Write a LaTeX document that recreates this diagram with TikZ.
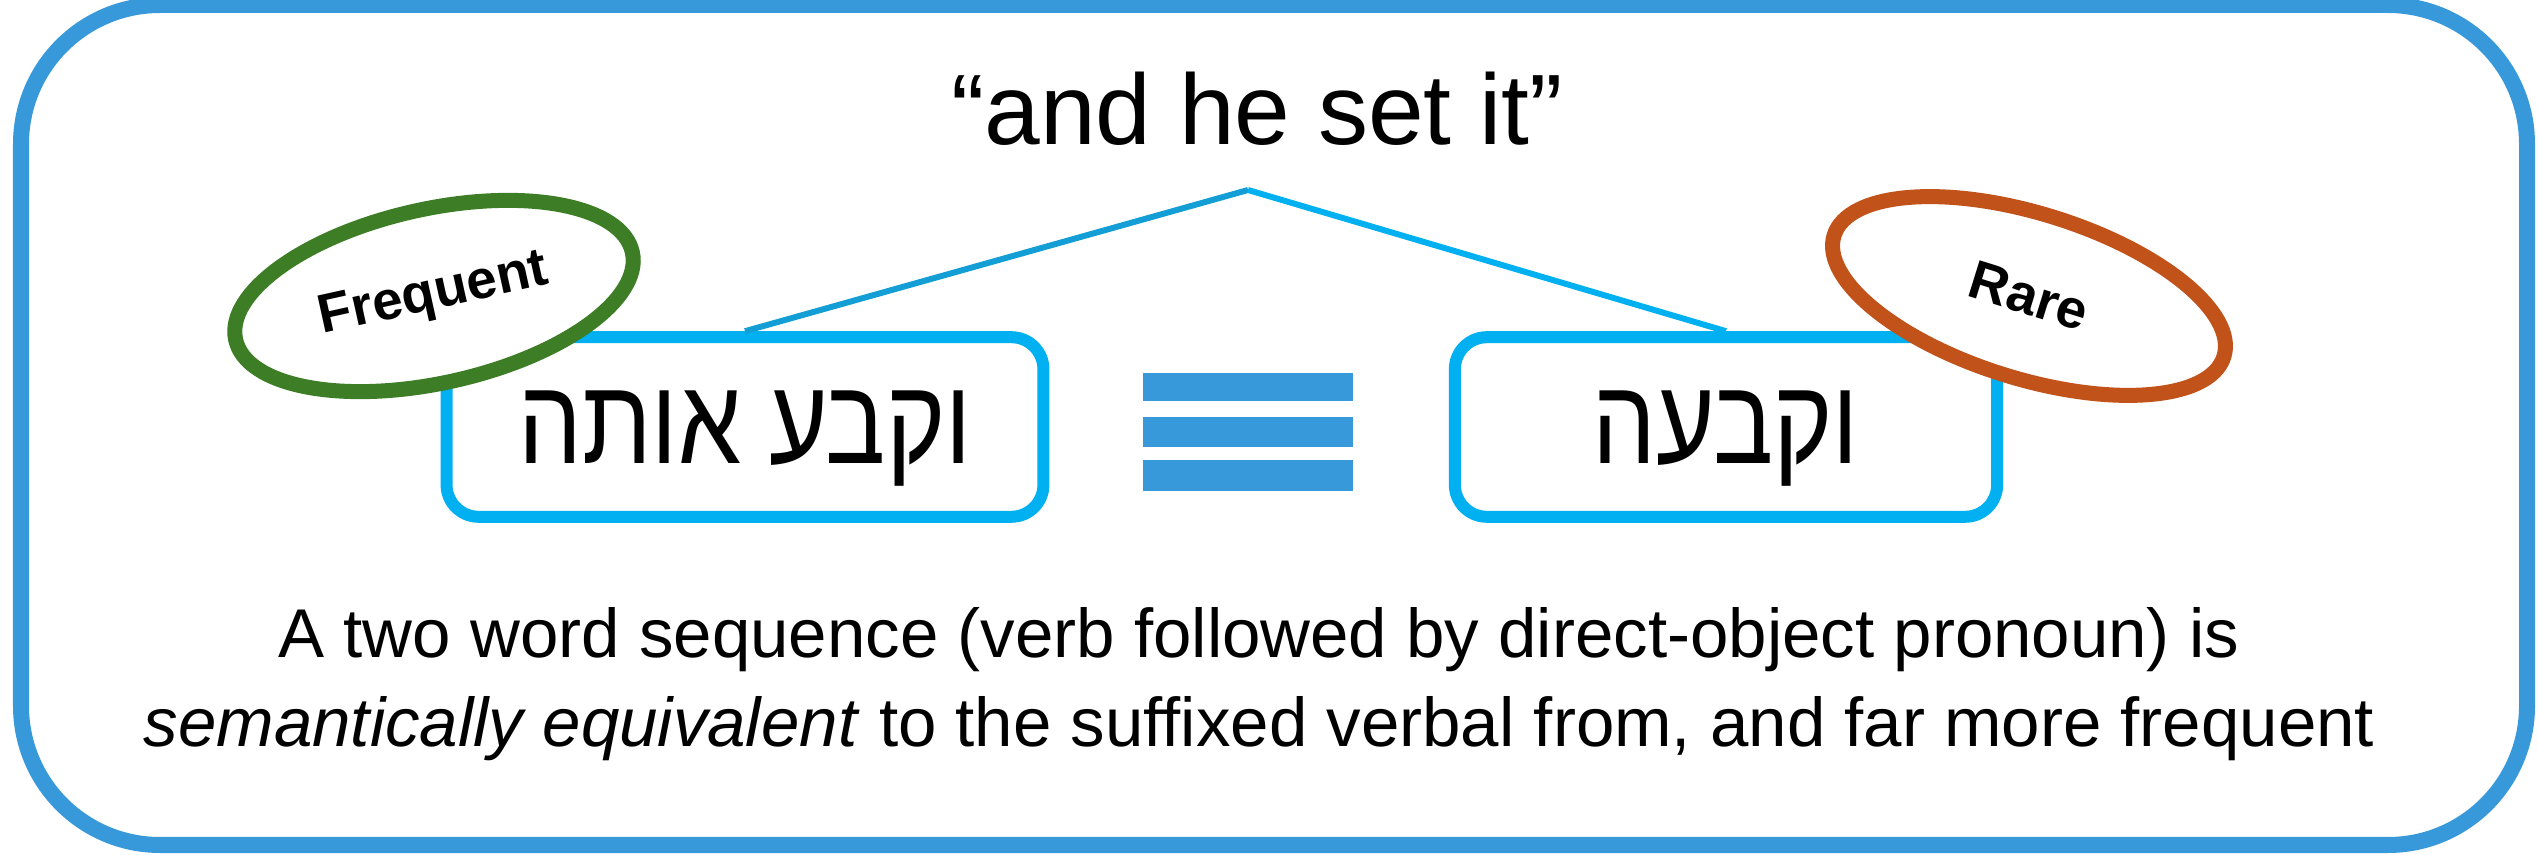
\documentclass[tikz,border=0pt]{standalone}
\usepackage{fontspec}
\setmainfont{Liberation Sans}
\newfontfamily\hebfont[Script=Hebrew, FakeStretch=0.83]{Liberation Sans}
\TeXXeTstate=1
\usetikzlibrary{shapes.geometric}
\definecolor{framecol}{RGB}{56,153,218}
\definecolor{boxcol}{RGB}{0,176,240}
\definecolor{leftline}{RGB}{20,158,214}
\definecolor{freqgreen}{RGB}{61,125,37}
\definecolor{rareorange}{RGB}{192,82,26}
\begin{document}
\begin{tikzpicture}[x=0.01cm,y=-0.01cm,
  wordbox/.style={draw=boxcol, line width=3.41pt, rounded corners=0.32cm, minimum height=1.795cm,
    inner sep=0pt, text depth=0pt, font=\hebfont\fontsize{34.5}{40}\selectfont},
  tag/.style={shape=ellipse, draw, fill=white, line width=4.27pt, inner sep=0pt,
    font=\bfseries\fontsize{15.5}{18}\selectfont},
  link/.style={line width=1.7pt},
  bar/.style={fill=framecol},
  caption/.style={anchor=base, font=\fontsize{19.63}{25}\selectfont}]
\useasboundingbox (0,0) rectangle (2538,855);
\draw[framecol, line width=4.55pt, rounded corners=1.39cm] (21,5) rectangle (2527,845);

\node[anchor=base, inner sep=0pt, font=\fontsize{28.45}{34}\selectfont] (title) at (1257,145) {“and he set it”};

\node[wordbox, minimum width=5.965cm] (left) at (745,427) {\beginR וקבע אותה\endR};
\node[wordbox, minimum width=5.42cm] (right) at (1726,427) {\beginR וקבעה\endR};

\coordinate (apex) at (1248,190);
\draw[link, leftline] (apex) -- (left.north);
\draw[link, boxcol] (apex) -- (right.north);

\fill[bar] (1143,373) rectangle (1353,401);
\fill[bar] (1143,417) rectangle (1353,447);
\fill[bar] (1143,460) rectangle (1353,491);

\node[tag, draw=freqgreen, rotate=12.45, minimum width=4.06cm, minimum height=1.74cm] (freq) at (434,296) {Frequent};
\node[tag, draw=rareorange, rotate=-17.25, minimum width=4.08cm, minimum height=1.65cm] (rare) at (2029,296) {Rare};

\node[caption] (line1) at (1259,658) {A two word sequence (verb followed by direct-object pronoun) is};
\node[caption] (line2) at (1259,747) {\textit{semantically equivalent} to the suffixed verbal from, and far more frequent};
\end{tikzpicture}
\end{document}
